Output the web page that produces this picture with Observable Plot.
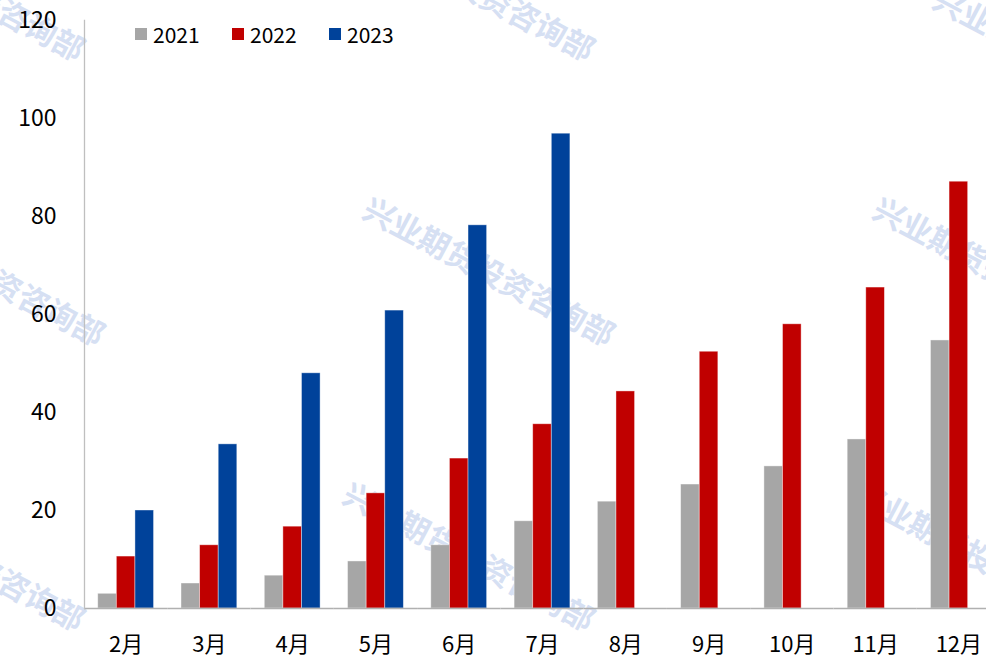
<!DOCTYPE html>
<html><head><meta charset="utf-8">
<script src="https://cdn.jsdelivr.net/npm/d3@7"></script>
<script src="https://cdn.jsdelivr.net/npm/@observablehq/plot@0.6"></script>
<style>
html,body{margin:0;padding:0;background:#fff;overflow:hidden;}
#wrap{position:relative;width:986px;height:662px;overflow:hidden;font-family:"Noto Sans CJK SC","Noto Sans",sans-serif;}
.wm{position:absolute;white-space:nowrap;font-weight:bold;font-size:31px;color:#d6e0f3;transform:translate(-50%,-50%) rotate(28deg);z-index:0;}
#chart{position:absolute;left:0;top:0;z-index:1;}
#legend{position:absolute;left:135px;top:21px;z-index:2;display:flex;font-size:21px;line-height:26px;color:#000;}
#legend .item{width:97px;display:flex;align-items:center;}
#legend .sw{width:12px;height:12px;margin-right:6px;}
</style>
</head><body>
<div id="wrap"></div>
<script>
const months = ["2月","3月","4月","5月","6月","7月","8月","9月","10月","11月","12月"];
const years = ["2021","2022","2023"];
const v2021 = [3.0,5.1,6.7,9.6,12.9,17.8,21.8,25.3,29.0,34.5,54.7];
const v2022 = [10.6,12.9,16.7,23.5,30.6,37.6,44.3,52.4,58.0,65.5,87.1];
const v2023 = [20.0,33.5,48.0,60.8,78.2,96.9,null,null,null,null,null];
const yTicks = [0,20,40,60,80,100,120];
const colors = ["#A6A6A6","#C00000","#00429A"];
const watermark = "兴业期货投资咨询部";

const series = [v2021, v2022, v2023];
const data = [];
months.forEach((m, i) => years.forEach((y, j) => {
  if (series[j][i] != null) data.push({month: m, year: y, value: series[j][i]});
}));

const wrap = document.getElementById("wrap");

// watermarks (decoration)
[[-40,-15],[470,-15],[1060,60],[-20,270],[490,270],[1000,270],[-40,555],[470,555],[980,555]].forEach(([x,y]) => {
  const d = document.createElement("div");
  d.className = "wm";
  d.style.left = x + "px"; d.style.top = y + "px";
  d.textContent = watermark;
  wrap.appendChild(d);
});

const chart = Plot.plot({
  width: 1000, height: 662,
  marginLeft: 84, marginRight: 0, marginTop: 20, marginBottom: 54,
  style: {fontFamily: '"Noto Sans CJK SC","Noto Sans",sans-serif', fontSize: "22px", background: "transparent", maxWidth: "none", color: "#000"},
  fx: {domain: months, padding: 0, round: false, label: null, tickSize: 0, tickPadding: 28},
  x: {domain: years, paddingInner: 0, paddingOuter: 0.738, round: false, axis: null},
  y: {domain: [0,120], ticks: yTicks, tickSize: 0, tickPadding: 28, label: null},
  color: {domain: years, range: colors},
  marks: [
    Plot.barY(data, {fx: "month", x: "year", y: "value", fill: "year", stroke: "white", strokeOpacity: 0.5, strokeWidth: 0.8}),
    Plot.ruleY([0], {stroke: "#b0b0b0", strokeWidth: 1.3}),
    Plot.frame({anchor: "left", stroke: "#bfbfbf", strokeWidth: 1.3, facet: "super"}),
    Plot.axisY({ticks: yTicks, tickSize: 0, tickPadding: 28, fontSize: 23, label: null})
  ]
});
chart.id = "chart";
wrap.appendChild(chart);

const legend = document.createElement("div");
legend.id = "legend";
years.forEach((y, i) => {
  const it = document.createElement("div");
  it.className = "item";
  it.innerHTML = `<span class="sw" style="background:${colors[i]}"></span><span>${y}</span>`;
  legend.appendChild(it);
});
wrap.appendChild(legend);
</script>
</body></html>
